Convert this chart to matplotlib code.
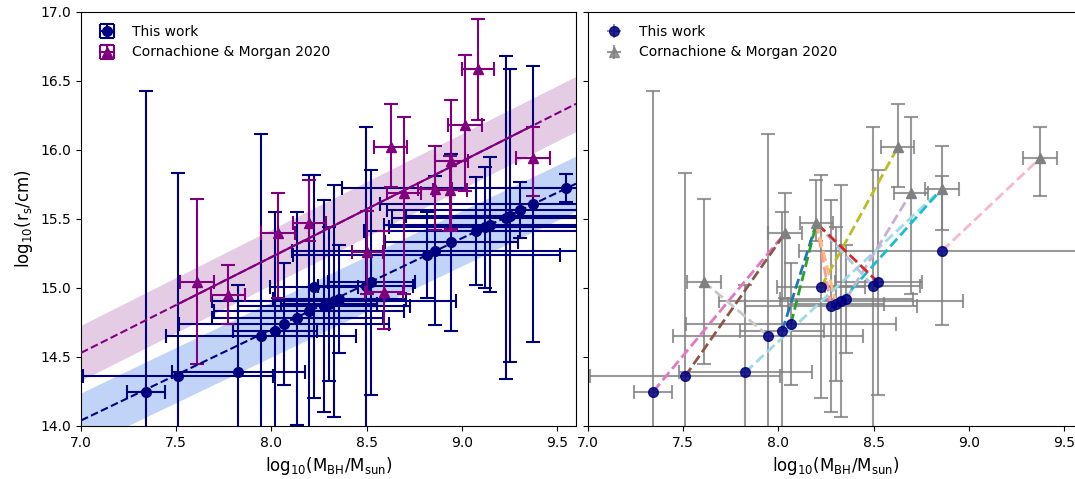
import numpy as np
import matplotlib.pyplot as plt

# This work: log10(M_BH/M_sun), log10(r_s/cm) and errors
tw_mbh = [7.343, 7.51, 7.827, 7.945, 8.02, 8.066, 8.137, 8.199, 8.225, 8.277, 8.303, 8.33, 8.356,
          8.496, 8.525, 8.816, 8.86, 8.946, 9.075, 9.12, 9.15, 9.232, 9.255, 9.308, 9.372, 9.55]
tw_rs = [14.25, 14.36, 14.39, 14.655, 14.69, 14.74, 14.78, 14.83, 15.01, 14.87, 14.885, 14.905, 14.92,
         15.015, 15.04, 15.24, 15.27, 15.33, 15.415, 15.44, 15.46, 15.51, 15.525, 15.565, 15.61, 15.725]
tw_mbh_err = [0.10, 0.50, 0.35, 0.50, 0.22, 0.55, 0.45, 0.50, 0.23, 0.45, 0.25, 0.64, 0.35,
              0.25, 0.23, 0.70, 0.75, 0.35, 0.59, 0.50, 0.56, 0.60, 0.55, 0.70, 0.80, 1.18]
tw_rs_err = [2.18, 1.47, 0.63, 1.46, 0.86, 0.44, 0.77, 0.99, 0.81, 0.77, 0.56, 0.84, 0.39,
             1.15, 0.815, 0.31, 0.54, 0.64, 0.39, 0.44, 0.49, 1.17, 1.06, 0.20, 1.00, 0.10]

# Cornachione & Morgan 2020
cm_mbh = [7.608, 7.774, 8.036, 8.20, 8.504, 8.59, 8.627, 8.697, 8.86, 8.94, 8.946, 9.016, 9.086, 9.374]
cm_rs = [15.046, 14.95, 15.40, 15.47, 15.26, 14.97, 16.02, 15.69, 15.72, 15.71, 15.92, 16.18, 16.59, 15.94]
cm_mbh_err = [0.09, 0.09, 0.09, 0.085, 0.08, 0.10, 0.087, 0.09, 0.09, 0.09, 0.085, 0.09, 0.085, 0.087]
cm_rs_lo = [0.60, 0.21, 0.47, 0.13, 0.30, 0.27, 0.29, 0.73, 0.30, 0.30, 0.49, 0.48, 0.375, 0.27]
cm_rs_hi = [0.60, 0.22, 0.29, 0.31, 0.30, 0.44, 0.31, 0.55, 0.31, 0.25, 0.44, 0.51, 0.36, 0.23]

# linear fits: intercept at log M = 7, slope, scatter
tw_fit = [14.04, 0.66, 0.2]
cm_fit = [14.53, 0.694, 0.2]
cm_solid = [7.5, 9.37]

# matched objects (index in this work, index in C&M)
pair_tw = [0, 1, 2, 3, 4, 5, 8, 9, 10, 11, 12, 13, 14, 16]
pair_cm = [2, 2, 8, 0, 3, 3, 6, 3, 3, 8, 7, 3, 3, 13]
pair_col = ['#e377c2', '#8c564b', '#9edae5', '#c7c7c7', '#1f77b4', '#2ca02c', '#bcbd22',
            '#ff9896', '#ffbb78', '#17becf', '#c5b0d5', '#aec7e8', '#d62728', '#f7b6d2']

tw_mbh = np.array(tw_mbh); tw_rs = np.array(tw_rs)
tw_mbh_err = np.array(tw_mbh_err); tw_rs_err = np.array(tw_rs_err)
cm_mbh = np.array(cm_mbh); cm_rs = np.array(cm_rs)
cm_mbh_err = np.array(cm_mbh_err)
cm_rs_e = np.array([cm_rs_lo, cm_rs_hi])

fig = plt.figure(figsize=(10.75, 4.79), dpi=100)
ax1 = fig.add_axes([81/1075, 53/479, 495/1075, 414/479])
ax2 = fig.add_axes([588/1075, 53/479, 495/1075, 414/479], sharey=ax1)

xx = np.linspace(7.0, 9.6, 200)
yb = tw_fit[0] + tw_fit[1]*(xx - 7)
yp = cm_fit[0] + cm_fit[1]*(xx - 7)
ax1.fill_between(xx, yb - tw_fit[2], yb + tw_fit[2], color='cornflowerblue', alpha=0.4, lw=0, zorder=1)
ax1.fill_between(xx, yp - cm_fit[2], yp + cm_fit[2], color='purple', alpha=0.2, lw=0, zorder=1)

h1 = ax1.errorbar(tw_mbh, tw_rs, xerr=tw_mbh_err, yerr=tw_rs_err, fmt='o', color='navy',
                  ms=7, elinewidth=1.5, capsize=5, capthick=1.5, zorder=2, label='This work')
h2 = ax1.errorbar(cm_mbh, cm_rs, xerr=cm_mbh_err, yerr=cm_rs_e, fmt='^', color='purple',
                  ms=7, elinewidth=1.5, capsize=5, capthick=1.5, zorder=3,
                  label='Cornachione & Morgan 2020')

ax1.plot(xx, yb, '--', color='navy', lw=1.5, zorder=4)
inside = (xx >= cm_solid[0]) & (xx <= cm_solid[1])
ax1.plot(xx, yp, '--', color='purple', lw=1.5, zorder=4)
ax1.plot(xx[inside], yp[inside], '-', color='purple', lw=1.5, zorder=5)

ax1.legend(handles=[h1, h2], loc='upper left', frameon=False, fontsize=10)

# right panel: matched objects
ax2.errorbar(tw_mbh[pair_tw], tw_rs[pair_tw], xerr=tw_mbh_err[pair_tw], yerr=tw_rs_err[pair_tw],
             fmt='none', ecolor='gray', alpha=0.8, elinewidth=1.5, capsize=5, capthick=1.5, zorder=1)
cm_idx = sorted(set(pair_cm))
ax2.errorbar(cm_mbh[cm_idx], cm_rs[cm_idx], xerr=cm_mbh_err[cm_idx], yerr=cm_rs_e[:, cm_idx],
             fmt='none', ecolor='gray', alpha=0.8, elinewidth=1.5, capsize=5, capthick=1.5, zorder=1)
for i, j, c in zip(pair_tw, pair_cm, pair_col):
    ax2.plot([tw_mbh[i], cm_mbh[j]], [tw_rs[i], cm_rs[j]], '--', color=c, lw=2, zorder=2)
ax2.plot(tw_mbh[pair_tw], tw_rs[pair_tw], 'o', color='navy', alpha=0.85, ms=7, zorder=3)
ax2.plot(cm_mbh[cm_idx], cm_rs[cm_idx], '^', color='gray', ms=7, zorder=3)

g1 = ax2.errorbar([], [], xerr=[], yerr=[], fmt='o', color='navy', ecolor='gray', alpha=0.85,
                  ms=7, capsize=5, label='This work')
g2 = ax2.errorbar([], [], xerr=[], yerr=[], fmt='^', color='gray', ecolor='gray', alpha=0.8,
                  ms=7, capsize=5, label='Cornachione & Morgan 2020')
ax2.legend(handles=[g1, g2], loc='upper left', frameon=False, fontsize=10)

xlab = r'log$_{10}$(M$_{\mathrm{BH}}$/M$_{\mathrm{sun}}$)'
for ax in (ax1, ax2):
    ax.set_xlim(7.0, 9.6)
    ax.set_xticks([7.0, 7.5, 8.0, 8.5, 9.0, 9.5])
    ax.set_xlabel(xlab, fontsize=12)
ax1.set_ylim(14.0, 17.0)
ax1.set_ylabel(r'log$_{10}$(r$_{\mathrm{s}}$/cm)', fontsize=12)
ax2.tick_params(labelleft=False)

fig.savefig('out.png', dpi=100)
